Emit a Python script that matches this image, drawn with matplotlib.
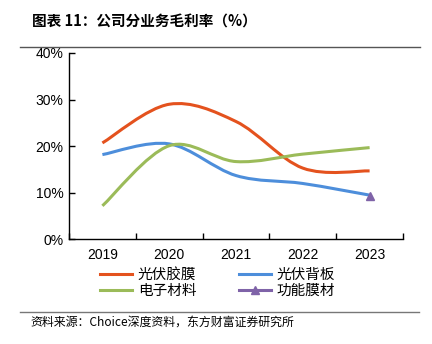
import matplotlib
matplotlib.use("Agg")
import matplotlib.pyplot as plt
from matplotlib.path import Path
from matplotlib.patches import PathPatch
from matplotlib.lines import Line2D
import numpy as np

plt.rcParams['font.family'] = ['Liberation Sans', 'Noto Sans CJK SC', 'DejaVu Sans']

years = ['2019', '2020', '2021', '2022', '2023']
pv_film = [20.7, 29.0, 25.3, 15.3, 14.7]       # 光伏胶膜
pv_back = [18.2, 20.5, 13.7, 12.0, 9.5]        # 光伏背板
electronic = [7.2, 20.1, 16.7, 18.3, 19.7]     # 电子材料
functional = [None, None, None, None, 9.3]     # 功能膜材
series_names = ['光伏胶膜', '光伏背板', '电子材料', '功能膜材']
y_ticks = [0, 10, 20, 30, 40]

colors = ['#E4521E', '#4D8EDB', '#9BBB59', '#7F63A8']

fig = plt.figure(figsize=(4.32, 3.44), dpi=100)
ax = fig.add_axes([69/432, 1-239.4/344, (403-69)/432, (239.4-53)/344])

def smooth_path(xs, ys):
    xs = np.asarray(xs, float); ys = np.asarray(ys, float)
    n = len(xs)
    verts = [(xs[0], ys[0])]
    codes = [Path.MOVETO]
    for i in range(n-1):
        p0 = (xs[max(i-1, 0)], ys[max(i-1, 0)])
        p1 = (xs[i], ys[i]); p2 = (xs[i+1], ys[i+1])
        p3 = (xs[min(i+2, n-1)], ys[min(i+2, n-1)])
        c1 = (p1[0] + (p2[0]-p0[0])/6, p1[1] + (p2[1]-p0[1])/6)
        c2 = (p2[0] - (p3[0]-p1[0])/6, p2[1] - (p3[1]-p1[1])/6)
        verts += [c1, c2, p2]
        codes += [Path.CURVE4]*3
    return Path(verts, codes)

x = np.arange(len(years))
for vals, c in zip([pv_film, pv_back, electronic], colors[:3]):
    p = smooth_path(x, vals)
    ax.add_patch(PathPatch(p, facecolor='none', edgecolor=c, lw=2.2, capstyle='butt'))

fx = [i for i, v in enumerate(functional) if v is not None]
fy = [v for v in functional if v is not None]
ax.plot(fx, fy, color=colors[3], lw=2.2, marker='^', markersize=6, clip_on=False)

ax.set_xlim(-0.5, len(years)-0.5)
ax.set_ylim(0, 40)
ax.set_yticks(y_ticks)
ax.set_yticklabels([f'{t}%' for t in y_ticks], fontsize=10)
ax.set_xticks(np.arange(-0.5, len(years), 1.0))
ax.set_xticklabels([])
ax.set_xticks(x, minor=True)
ax.set_xticklabels(years, minor=True, fontsize=10)
ax.tick_params(axis='x', which='minor', length=0, pad=6)
ax.tick_params(axis='x', which='major', direction='in', length=4, width=1)
ax.tick_params(axis='y', direction='in', length=4, width=1, pad=4)
for s in ['top', 'right']:
    ax.spines[s].set_visible(False)
for s in ['left', 'bottom']:
    ax.spines[s].set_linewidth(1.0)
    ax.spines[s].set_color('#000000')

handles = [Line2D([], [], color=colors[0], lw=2.2),
           Line2D([], [], color=colors[2], lw=2.2),
           Line2D([], [], color=colors[1], lw=2.2),
           Line2D([], [], color=colors[3], lw=2.2, marker='^', markersize=6)]
labels = [series_names[0], series_names[2], series_names[1], series_names[3]]
leg = fig.legend(handles, labels, ncol=2, loc='upper left',
                 bbox_to_anchor=(100/432, 1-268/344), frameon=False,
                 prop={'family': ['Noto Sans CJK SC'], 'size': 10.5},
                 handlelength=2.2, handletextpad=0.4, columnspacing=2.9,
                 labelspacing=0.15, borderpad=0, borderaxespad=0)

fig.text(32/432, 1-22/344, '图表 11：公司分业务毛利率（%）', fontsize=10.5,
         fontweight='bold', family=['Noto Sans CJK SC'], va='center', ha='left')
fig.add_artist(Line2D([20/432, 420/432], [1-47/344, 1-47/344], color='#555555', lw=1))
fig.add_artist(Line2D([20/432, 419/432], [1-312/344, 1-312/344], color='#777777', lw=1))
fig.text(30/432, 1-322/344, '资料来源：Choice深度资料，东方财富证券研究所', fontsize=8.6,
         family=['Noto Sans CJK SC'], va='center', ha='left')

fig.savefig('out.png', dpi=100)
